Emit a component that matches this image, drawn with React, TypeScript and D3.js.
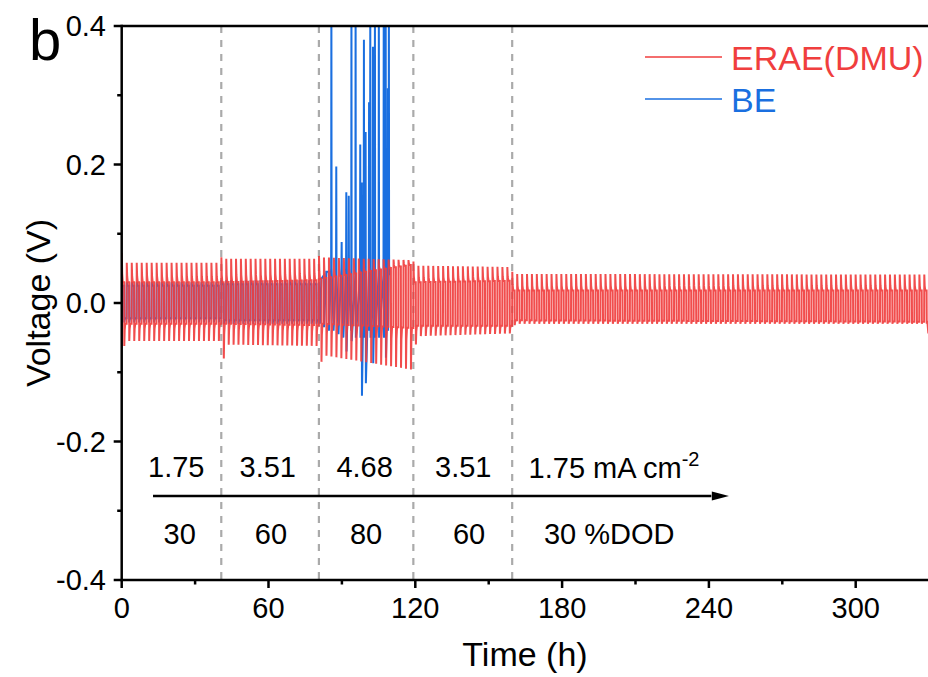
import React from "react";
import * as d3 from "d3";

// ---------- data ----------
const X_TICKS = [0, 60, 120, 180, 240, 300];
const X_MINOR = [30, 90, 150, 210, 270];
const Y_TICKS = [-0.4, -0.2, 0, 0.2, 0.4];
const Y_MINOR = [-0.3, -0.1, 0.1, 0.3];

// step boundaries (h)
const SEG_START = [0, 40.7, 80.6, 119.2, 159.6];
const SEG_END = [40.7, 80.6, 119.2, 159.6, 330];
const CYCLE_H = 2; // 1 h strip + 1 h plate

const CURRENT_LABELS = ["1.75", "3.51", "4.68", "3.51"];
const CURRENT_X = [22.3, 59.7, 99.3, 139.6];
const CURRENT_LAST_X = 166.3;
const DOD_LABELS = ["30", "60", "80", "60"];
const DOD_X = [23.7, 61.0, 99.9, 142.0];
const DOD_LAST_X = 172.6;
const DASH_X = [40.7, 80.6, 119.2, 159.6];

// ERAE(DMU) voltage envelope per step (start -> end of step)
const RED_PEAK_A = [0.058, 0.064, 0.066, 0.054, 0.042];
const RED_PEAK_B = [0.058, 0.064, 0.062, 0.052, 0.041];
const RED_PPLAT_A = [0.030, 0.030, 0.035, 0.030, 0.018];
const RED_PPLAT_B = [0.030, 0.033, 0.055, 0.032, 0.018];
const RED_NPLAT_A = [-0.030, -0.030, -0.030, -0.033, -0.025];
const RED_NPLAT_B = [-0.030, -0.032, -0.036, -0.033, -0.027];
const RED_NPEAK_A = [-0.055, -0.060, -0.075, -0.048, -0.030];
const RED_NPEAK_B = [-0.055, -0.062, -0.096, -0.044, -0.030];
const RED_FIRST_PEAK = [0.072, 0.066, 0.068, 0.060, 0.045];
const RED_FIRST_NEG = [-0.062, -0.080, -0.085, -0.060, -0.032];
const RED_HEAD_T = [0, 0.05];
const RED_HEAD_V = [-0.065, -0.02];
const RED_TAIL_T = [329.3, 329.7];
const RED_TAIL_V = [-0.027, -0.044];

// BE regular cycling (first two steps)
const BE_SEG_START = [0, 40.7];
const BE_SEG_END = [40.7, 80.6];
const BE_PEAK = [0.030, 0.033];
const BE_PPLAT = [0.025, 0.027];
const BE_NPLAT = [-0.022, -0.025];
const BE_NPEAK = [-0.028, -0.030];

// BE erratic part (short circuit) read point by point
const BE_T = [80.6, 81.0, 81.6, 82.6, 82.7, 83.6, 84.6, 84.7, 85.6, 85.7, 85.8, 86.6, 87.6, 87.7, 87.8, 88.6,
  89.8, 89.9, 90.0, 90.6, 91.7, 91.8, 91.9, 92.7, 92.8, 92.9, 93.8, 93.9, 94.0, 95.5, 95.6, 95.7,
  97.4, 97.5, 97.6, 98.0, 98.1, 98.2, 98.9, 99.0, 99.1, 99.6, 99.7, 99.8, 101.0, 101.1, 101.2,
  101.5, 101.6, 101.7, 102.6, 102.7, 102.8, 103.4, 103.5, 103.6, 105.0, 105.1, 105.2, 107.0,
  107.1, 107.2, 107.8, 107.9, 108.0, 108.7, 108.8, 108.9, 109.1, 109.2, 109.3];
const BE_V = [0.03, -0.03, 0.035, 0.04, -0.035, 0.045, 0.045, -0.04, 0.05, 0.45, 0.05, -0.04, 0.04, 0.197, 0.04, -0.045,
  0.05, 0.088, 0.04, -0.05, 0.05, 0.16, -0.07, 0.04, 0.155, 0.03, -0.04, 0.45, -0.055, 0.04, 0.45, -0.05,
  0.04, 0.229, -0.05, 0.05, 0.174, -0.134, 0.04, 0.38, -0.05, 0.05, 0.247, -0.116, 0.04, 0.29, -0.04,
  0.05, 0.45, -0.05, 0.05, 0.37, -0.087, 0.04, 0.45, -0.05, 0.04, 0.45, -0.05, 0.04,
  0.45, -0.05, 0.04, 0.45, -0.079, 0.04, 0.31, -0.04, 0.04, 0.45, 0.04];

// ---------- helpers ----------
type P = [number, number];

function cycles(
  starts: number[], ends: number[], pkA: number[], pkB: number[], ppA: number[], ppB: number[],
  npA: number[], npB: number[], nkA: number[], nkB: number[], firstPk?: number[], firstNk?: number[]
): P[] {
  const pts: P[] = [];
  for (let s = 0; s < starts.length; s++) {
    const t0 = starts[s], t1 = ends[s];
    const n = Math.max(1, Math.round((t1 - t0) / CYCLE_H));
    const per = (t1 - t0) / n;
    for (let c = 0; c < n; c++) {
      const tc = t0 + c * per;
      const f = c / Math.max(1, n - 1);
      const L = (a: number[], b: number[]) => a[s] + (b[s] - a[s]) * f;
      const pk = c === 0 && firstPk ? firstPk[s] : L(pkA, pkB);
      const pp = L(ppA, ppB);
      const np = L(npA, npB);
      const nk = c === 0 && firstNk ? firstNk[s] : L(nkA, nkB);
      pts.push([tc + 0.02 * per, pk]);
      pts.push([tc + 0.1 * per, pp + (pk - pp) * 0.3]);
      pts.push([tc + 0.22 * per, pp]);
      pts.push([tc + 0.49 * per, pp]);
      pts.push([tc + 0.52 * per, nk]);
      pts.push([tc + 0.6 * per, np + (nk - np) * 0.3]);
      pts.push([tc + 0.72 * per, np]);
      pts.push([tc + 0.99 * per, np]);
    }
  }
  return pts;
}

const W = 928, H = 677;
const X0 = 121.7, X1 = 929.1, Y0 = 580, Y1 = 26;
const FONT = "'Liberation Sans', Arial, Helvetica, sans-serif";
const RED = "#F03E3E";
const BLUE = "#1A6FE0";

export default function App() {
  const x = d3.scaleLinear().domain([0, 330]).range([X0, X1]);
  const y = d3.scaleLinear().domain([-0.4, 0.4]).range([Y0, Y1]);
  const line = d3.line<P>().x((d) => x(d[0])).y((d) => y(d[1]));

  const redPts: P[] = [
    ...RED_HEAD_T.map((t, i) => [t, RED_HEAD_V[i]] as P),
    ...cycles(SEG_START, SEG_END, RED_PEAK_A, RED_PEAK_B, RED_PPLAT_A, RED_PPLAT_B, RED_NPLAT_A, RED_NPLAT_B,
      RED_NPEAK_A, RED_NPEAK_B, RED_FIRST_PEAK, RED_FIRST_NEG),
    ...RED_TAIL_T.map((t, i) => [t, RED_TAIL_V[i]] as P),
  ];
  const bluePts: P[] = [
    ...cycles(BE_SEG_START, BE_SEG_END, BE_PEAK, BE_PEAK, BE_PPLAT, BE_PPLAT, BE_NPLAT, BE_NPLAT, BE_NPEAK, BE_NPEAK),
    ...BE_T.map((t, i) => [t, BE_V[i]] as P),
  ];

  const tickFs = 29;
  return (
    <svg width={W} height={H} style={{ position: "absolute", left: 0, top: 0, background: "#fff" }} fontFamily={FONT}>
      <defs>
        <clipPath id="plot">
          <rect x={X0} y={Y1} width={X1 - X0} height={Y0 - Y1} />
        </clipPath>
      </defs>
      {/* dashed step boundaries */}
      {DASH_X.map((d) => (
        <line key={d} x1={x(d)} x2={x(d)} y1={Y1} y2={Y0} stroke="#aaaaaa" strokeWidth={2.2} strokeDasharray="7,7" />
      ))}
      <g clipPath="url(#plot)">
        <path d={line(bluePts) || ""} fill="none" stroke={BLUE} strokeWidth={2} />
        <path d={line(redPts) || ""} fill="none" stroke={RED} strokeWidth={2} strokeOpacity={0.92} />
      </g>
      {/* frame */}
      <line x1={X0} x2={X1} y1={Y1} y2={Y1} stroke="#000" strokeWidth={2.5} />
      <line x1={X0} x2={X1} y1={Y0} y2={Y0} stroke="#000" strokeWidth={2.5} />
      <line x1={X0} x2={X0} y1={Y1 - 1.2} y2={Y0 + 1.2} stroke="#000" strokeWidth={2.5} />
      {/* x ticks */}
      {X_TICKS.map((t) => (
        <g key={"x" + t}>
          <line x1={x(t)} x2={x(t)} y1={Y0} y2={Y0 + 8} stroke="#000" strokeWidth={2.5} />
          <text x={x(t)} y={618} textAnchor="middle" fontSize={tickFs}>{t}</text>
        </g>
      ))}
      {X_MINOR.map((t) => (
        <line key={"xm" + t} x1={x(t)} x2={x(t)} y1={Y0} y2={Y0 + 4.5} stroke="#000" strokeWidth={2.5} />
      ))}
      {/* y ticks */}
      {Y_TICKS.map((t) => (
        <g key={"y" + t}>
          <line x1={X0} x2={X0 - 8} y1={y(t)} y2={y(t)} stroke="#000" strokeWidth={2.5} />
          <text x={106} y={y(t)} dy="0.36em" textAnchor="end" fontSize={tickFs}>{t.toFixed(1)}</text>
        </g>
      ))}
      {Y_MINOR.map((t) => (
        <line key={"ym" + t} x1={X0} x2={X0 - 4.5} y1={y(t)} y2={y(t)} stroke="#000" strokeWidth={2.5} />
      ))}
      {/* axis titles */}
      <text x={525} y={666} textAnchor="middle" fontSize={34}>Time (h)</text>
      <text transform={`translate(50,${y(0)}) rotate(-90)`} textAnchor="middle" fontSize={34}>Voltage (V)</text>
      <text x={29} y={60} fontSize={58}>b</text>
      {/* legend */}
      <line x1={645} x2={722} y1={57} y2={57} stroke={RED} strokeWidth={1.6} />
      <text x={731} y={69.5} fontSize={34} fill={RED}>ERAE(DMU)</text>
      <line x1={645} x2={722} y1={99} y2={99} stroke={BLUE} strokeWidth={1.6} />
      <text x={731} y={111.5} fontSize={34} fill={BLUE}>BE</text>
      {/* annotations */}
      {CURRENT_LABELS.map((l, i) => (
        <text key={"c" + i} x={x(CURRENT_X[i])} y={477} textAnchor="middle" fontSize={29}>{l}</text>
      ))}
      <text x={x(CURRENT_LAST_X)} y={478} fontSize={29}>
        1.75 mA cm<tspan dy={-12} fontSize={20}>-2</tspan>
      </text>
      {DOD_LABELS.map((l, i) => (
        <text key={"d" + i} x={x(DOD_X[i])} y={544} textAnchor="middle" fontSize={29}>{l}</text>
      ))}
      <text x={x(DOD_LAST_X)} y={544} fontSize={29}>30 %DOD</text>
      {/* arrow */}
      <line x1={x(12.8)} x2={x(241)} y1={496} y2={496} stroke="#000" strokeWidth={2.4} />
      <path d={`M${x(241.2)},${496 - 4.5}L${x(248.2)},496L${x(241.2)},${496 + 4.5}Z`} fill="#000" />
    </svg>
  );
}
